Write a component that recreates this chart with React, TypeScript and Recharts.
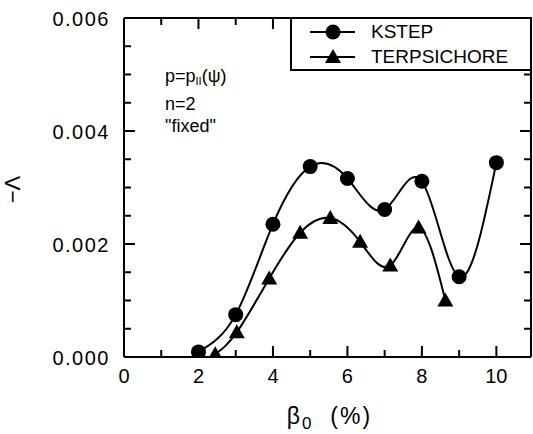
import { LineChart, Line, XAxis, YAxis, Legend, ReferenceLine } from "recharts";

const kstepBeta = [2, 3, 4, 5, 6, 7, 8, 9, 10];
const kstepLambda = [0.00009, 0.00075, 0.00235, 0.00337, 0.00316, 0.00261, 0.00311, 0.00142, 0.00344];

const terpBeta = [2.45, 3.03, 3.9, 4.73, 5.54, 6.34, 7.15, 7.91, 8.63];
const terpLambda = [0.00005, 0.00044, 0.00139, 0.0022, 0.00246, 0.00204, 0.00162, 0.00229, 0.001];

const xMax = 10.93;
const xTicks = [0, 1, 2, 3, 4, 5, 6, 7, 8, 9, 10];
const xLabels = ["0", "", "2", "", "4", "", "6", "", "8", "", "10"];
const yTicks = [0, 0.0005, 0.001, 0.0015, 0.002, 0.0025, 0.003, 0.0035, 0.004, 0.0045, 0.005, 0.0055, 0.006];
const yLabels = ["0.000", "", "", "", "0.002", "", "", "", "0.004", "", "", "", "0.006"];

const kstep = kstepBeta.map((x, i) => ({ x, y: kstepLambda[i] }));
const terp = terpBeta.map((x, i) => ({ x, y: terpLambda[i] }));

const FONT = "'Liberation Sans', Arial, Helvetica, sans-serif";

function BottomTick(props: any) {
  const { x, y, index } = props;
  const label = xLabels[index];
  return (
    <g>
      <line x1={x} x2={x} y1={y} y2={y - (label ? 11 : 7)} stroke="#000" strokeWidth={2} />
      {label && (
        <text x={x} y={y + 26} textAnchor="middle" fontSize={20} fontFamily={FONT} fill="#000">
          {label}
        </text>
      )}
    </g>
  );
}

function TopTick(props: any) {
  const { x, y, index } = props;
  const major = xLabels[index] !== "";
  return <line x1={x} x2={x} y1={y} y2={y + (major ? 11 : 7)} stroke="#000" strokeWidth={2} />;
}

function LeftTick(props: any) {
  const { x, y, index } = props;
  const label = yLabels[index];
  return (
    <g>
      <line x1={x} x2={x + (label ? 11 : 7)} y1={y} y2={y} stroke="#000" strokeWidth={2} />
      {label && (
        <text x={x - 14} y={y + 8} textAnchor="end" fontSize={20} letterSpacing={1.5} fontFamily={FONT} fill="#000">
          {label}
        </text>
      )}
    </g>
  );
}

function RightTick(props: any) {
  const { x, y, index } = props;
  const major = yLabels[index] !== "";
  return <line x1={x} x2={x - (major ? 11 : 7)} y1={y} y2={y} stroke="#000" strokeWidth={2} />;
}

function CircleDot(props: any) {
  const { cx, cy } = props;
  return <circle cx={cx} cy={cy} r={7.5} fill="#000" />;
}

function TriangleDot(props: any) {
  const { cx, cy } = props;
  return <polygon points={`${cx - 8},${cy + 6} ${cx + 8},${cy + 6} ${cx},${cy - 8}`} fill="#000" />;
}

function XLabel(props: any) {
  const { viewBox } = props;
  const cx = viewBox.x + viewBox.width / 2;
  return (
    <text x={cx + 2} y={viewBox.y + 67} textAnchor="middle" fontSize={23} letterSpacing={2} fontFamily={FONT} fill="#000">
      β<tspan fontSize={17} dy={5}>0</tspan>
      <tspan dy={-5}>{"\u00a0\u00a0(%)"}</tspan>
    </text>
  );
}

function YLabel(props: any) {
  const { viewBox } = props;
  const cy = viewBox.y + viewBox.height / 2;
  return (
    <text x={20} y={cy + 2} transform={`rotate(-90 20 ${cy + 2})`} textAnchor="middle" fontSize={22} fontFamily={FONT} fill="#000">
      −Λ
    </text>
  );
}

function LegendBox() {
  return (
    <div
      style={{
        boxSizing: "border-box",
        width: 242,
        height: 54,
        border: "2px solid #000",
        background: "#fff",
        fontFamily: FONT,
        fontSize: 19,
        color: "#000",
      }}
    >
      {[
        { name: "KSTEP", tri: false },
        { name: "TERPSICHORE", tri: true },
      ].map((r) => (
        <div key={r.name} style={{ display: "flex", alignItems: "center", height: 25 }}>
          <svg width={79} height={25} style={{ display: "block", flex: "none" }}>
            <line x1={18} x2={63} y1={13} y2={13} stroke="#000" strokeWidth={2} />
            {r.tri ? (
              <polygon points="33,19 49,19 41,5" fill="#000" />
            ) : (
              <circle cx={41} cy={13} r={7.5} fill="#000" />
            )}
          </svg>
          <span style={{ lineHeight: "25px" }}>{r.name}</span>
        </div>
      ))}
    </div>
  );
}

export default function App() {
  return (
    <div style={{ position: "fixed", left: 0, top: 0, width: 533, height: 434, background: "#fff", overflow: "hidden" }}>
      <style>{"html,body{margin:0;padding:0;overflow:hidden;background:#fff}"}</style>
      <LineChart width={533} height={434} margin={{ top: 17, right: 0, left: 0, bottom: 0 }}>
        <XAxis
          xAxisId="b"
          type="number"
          dataKey="x"
          domain={[0, xMax]}
          ticks={xTicks}
          interval={0}
          height={77}
          tickSize={0}
          tickMargin={0}
          tickLine={false}
          tick={<BottomTick />}
          axisLine={{ stroke: "#000", strokeWidth: 2 }}
          allowDataOverflow
          label={<XLabel />}
        />
        <XAxis
          xAxisId="t"
          orientation="top"
          type="number"
          dataKey="x"
          domain={[0, xMax]}
          ticks={xTicks}
          interval={0}
          height={1}
          tickSize={0}
          tickMargin={0}
          tickLine={false}
          tick={<TopTick />}
          axisLine={{ stroke: "#000", strokeWidth: 2 }}
          allowDataOverflow
        />
        <YAxis
          yAxisId="l"
          type="number"
          dataKey="y"
          domain={[0, 0.006]}
          ticks={yTicks}
          interval={0}
          width={124}
          tickSize={0}
          tickMargin={0}
          tickLine={false}
          tick={<LeftTick />}
          axisLine={{ stroke: "#000", strokeWidth: 2 }}
          allowDataOverflow
          label={<YLabel />}
        />
        <YAxis
          yAxisId="r"
          orientation="right"
          type="number"
          dataKey="y"
          domain={[0, 0.006]}
          ticks={yTicks}
          interval={0}
          width={2}
          tickSize={0}
          tickMargin={0}
          tickLine={false}
          tick={<RightTick />}
          axisLine={{ stroke: "#000", strokeWidth: 2 }}
          allowDataOverflow
        />
        <ReferenceLine xAxisId="b" yAxisId="l" x={xMax} stroke="#000" strokeWidth={2} ifOverflow="visible" />
        <Legend
          layout="horizontal"
          verticalAlign="middle"
          align="center"
          content={<LegendBox />}
          wrapperStyle={{ position: "absolute", left: 290, top: 17, width: 242, height: 54 }}
        />
        <Line
          xAxisId="b"
          yAxisId="l"
          data={kstep}
          dataKey="y"
          name="KSTEP"
          type="natural"
          stroke="#000"
          strokeWidth={2}
          dot={<CircleDot />}
          activeDot={false}
          isAnimationActive={false}
        />
        <Line
          xAxisId="t"
          yAxisId="r"
          data={terp}
          dataKey="y"
          name="TERPSICHORE"
          type="natural"
          stroke="#000"
          strokeWidth={2}
          dot={<TriangleDot />}
          activeDot={false}
          isAnimationActive={false}
        />
      </LineChart>
      <div
        style={{
          position: "absolute",
          left: 165,
          top: 65,
          fontFamily: FONT,
          fontSize: 18,
          lineHeight: "22.5px",
          color: "#000",
        }}
      >
        <div>
          p=p<sub style={{ fontSize: 11, verticalAlign: "-3px" }}>II</sub>(ψ)
        </div>
        <div>n=2</div>
        <div>"fixed"</div>
      </div>
    </div>
  );
}
